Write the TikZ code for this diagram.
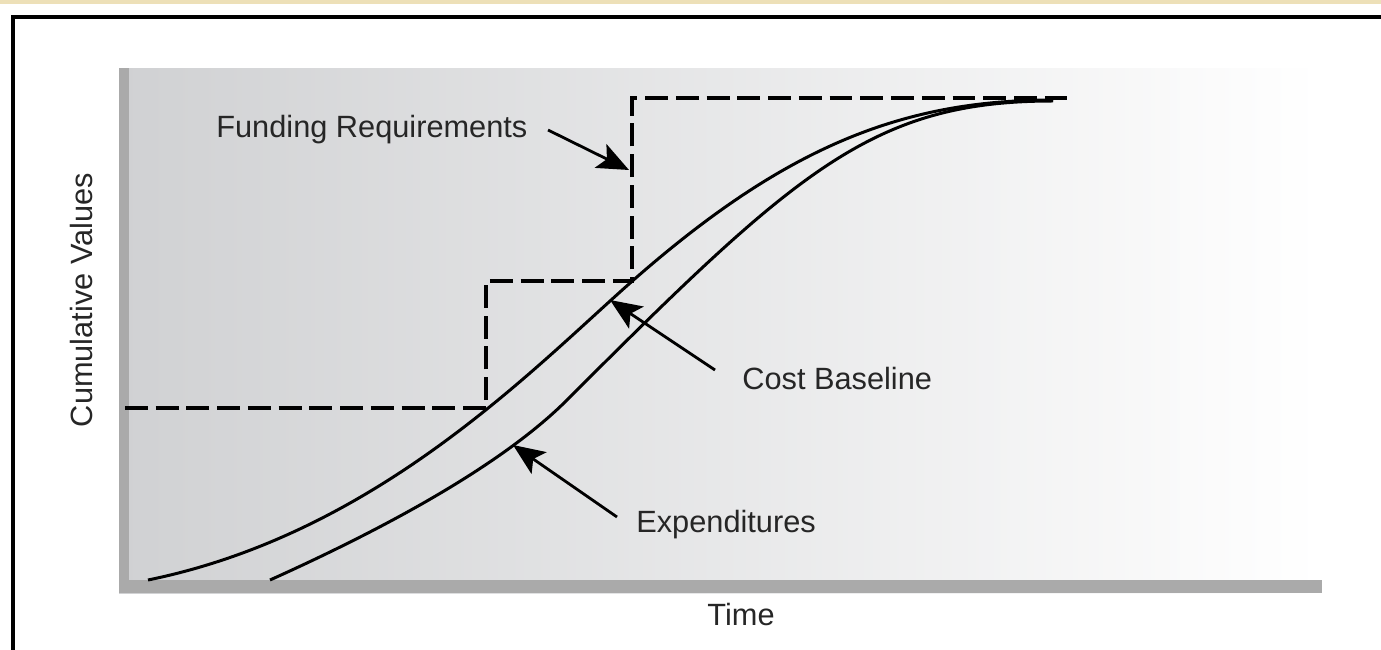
\documentclass[tikz,border=0pt]{standalone}
\usepackage{fontspec}
\setmainfont{Liberation Sans}
\usetikzlibrary{arrows.meta}
\definecolor{tanband}{HTML}{EDE0B8}
\definecolor{panelgray}{HTML}{D0D1D3}
\definecolor{axisgray}{HTML}{AAAAAA}
\begin{document}
\begin{tikzpicture}[
  x=0.02cm, y=-0.02cm,
  lbl/.style={font=\fontsize{17.5}{20}\selectfont, text=black!85, inner sep=0pt},
  curve/.style={line width=1.7pt},
  fundline/.style={line width=2.2pt, dash pattern=on 13pt off 4.5pt},
  ptr/.style={-{Stealth[length=18pt, width=15pt, inset=4pt]}, line width=1.6pt},
]
  \useasboundingbox (0,0) rectangle (1381,649);

  % Page frame
  \fill[tanband] (0,0) rectangle (1381,3.5);
  \draw[line width=2.3pt] (13,670) -- (13,17) -- (1400,17);

  % Plot panel and axes
  \shade[left color=panelgray, right color=white] (119,68) rectangle (1320,593);
  \fill[axisgray] (119,68) rectangle (129,593);
  \fill[axisgray] (119,580) rectangle (1322,593);

  % Funding requirements (steps)
  \draw[fundline] (125,408) -- (486,408) -- (486,281) -- (632,281) -- (632,98) -- (1067,98);

  % Cost baseline and expenditures
  \draw[curve] (148,580) .. controls (368,535) and (520,382) .. (620,292)
               .. controls (780,148) and (900,100) .. (1053,100);
  \draw[curve] (270,580) .. controls (370,535) and (497,470) .. (567,400)
               .. controls (797,170) and (873,101) .. (1053,101);

  % Labels
  \node[lbl, anchor=base west] (fund) at (216,137) {Funding Requirements};
  \node[lbl, anchor=base west] (cost) at (742,389) {Cost Baseline};
  \node[lbl, anchor=base west] (expend) at (636,532) {Expenditures};
  \node[lbl, anchor=base] (time) at (741,625) {Time};
  \node[lbl, rotate=90, anchor=base] (cumval) at (92,300) {Cumulative Values};

  % Pointers
  \coordinate (fundtail) at (548,130);
  \coordinate (fundtip) at (629,170);
  \coordinate (costtail) at (715,370);
  \coordinate (costtip) at (610,300);
  \coordinate (exptail) at (617,517);
  \coordinate (exptip) at (513,445);
  \draw[ptr] (fundtail) -- (fundtip);
  \draw[ptr] (costtail) -- (costtip);
  \draw[ptr] (exptail) -- (exptip);
\end{tikzpicture}
\end{document}
